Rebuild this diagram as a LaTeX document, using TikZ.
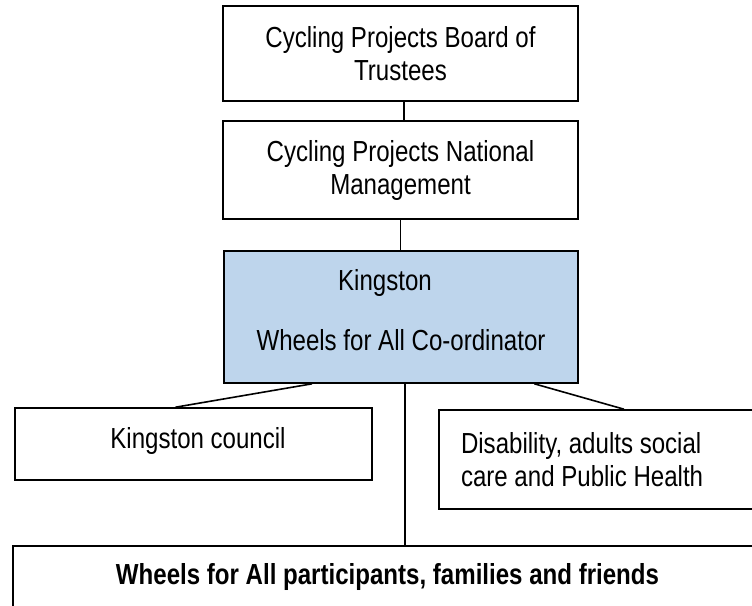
\documentclass[tikz,border=0pt]{standalone}
\usepackage{fontspec}
\setmainfont{Liberation Sans}[FakeStretch=0.83]
\usepackage{tikz}
\usetikzlibrary{positioning}
\usetikzlibrary{calc}
\definecolor{coordblue}{RGB}{190,213,236}

\begin{document}
\begin{tikzpicture}[x=1pt, y=-1pt, line width=1.6pt,
box/.style = {draw, rectangle, inner sep=0pt, align=center, font=\fontsize{29}{33}\selectfont}]
\useasboundingbox (0,0) rectangle (752,605);
\clip (0,0) rectangle (752,605);

\node[box, minimum width=355pt, minimum height=95pt] (trustees) at (400.5,53.5) {Cycling Projects Board of\\Trustees};
\node[box, minimum width=355pt, minimum height=98pt] (management) at ($(trustees)+(0,116.5)$) {Cycling Projects National\\Management};
\node[box, fill=coordblue, minimum width=354pt, minimum height=132pt] (coordinator) at ($(management)+(0.5,147)$) {Kingston\kern32pt\\[27pt]Wheels for All Co-ordinator\rule[-15pt]{0pt}{15pt}};

\node[box, minimum width=357pt, minimum height=72pt] (council) at (193.5,444) {\kern9pt Kingston council\rule[-13pt]{0pt}{13pt}};
\node[box, align=flush left, text width=317pt, inner xsep=22pt, minimum height=99pt] (disability) at (619.5,459.5) {Disability, adults social\\care and Public Health};
\node[box, font=\fontsize{29}{33}\selectfont\bfseries, minimum width=749pt, minimum height=70pt] (participants) at (387.5,581) {Wheels for All participants, families and friends\rule[-15pt]{0pt}{15pt}};

% lines
\draw ([xshift=3.5pt]trustees.south) -- ([xshift=3.5pt]management.north);
\draw (management.south) -- (management.south |- coordinator.north);
\draw ($(coordinator.south west)!0.25!(coordinator.south east)$) -- ($(council.north west)!0.45!(council.north east)$);
\draw ($(coordinator.south west)!0.875!(coordinator.south east)$) -- ([xshift=4.5pt]disability.north);
\draw ([xshift=4pt]coordinator.south) -- ([xshift=4pt]coordinator.south |- participants.north);
%\draw (council) -- (participants);
\end{tikzpicture}
\end{document}
